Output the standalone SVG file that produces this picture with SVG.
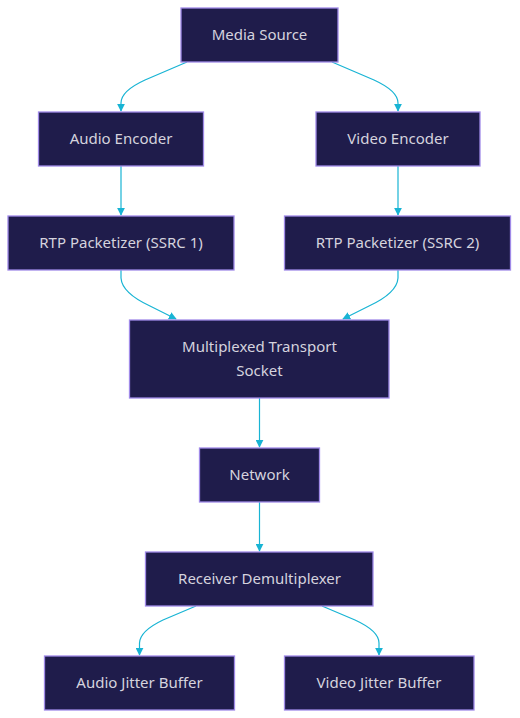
<svg xmlns="http://www.w3.org/2000/svg" width="520" height="718" viewBox="0 0 520 718">
<defs>
<style>
.node rect{fill:#1f1c4b;stroke:#a08ae8;stroke-width:1.3}
.node text{fill:#d5d3de;font-family:"Noto Sans","Open Sans",sans-serif;font-size:15px;text-anchor:middle;dominant-baseline:central}
.edge{fill:none;stroke:#18b4d4;stroke-width:1.2}
</style>
<marker id="arr" viewBox="0 0 10 10" refX="9" refY="5" markerWidth="8" markerHeight="8" markerUnits="userSpaceOnUse" orient="auto">
<path d="M0,0 L10,5 L0,10 z" fill="#18b4d4"/>
</marker>
</defs>
<rect width="520" height="718" fill="#ffffff"/>
<g id="connectors">
<path class="edge" d="M187,62 L145,80 Q121,91 121,103 L121,111" marker-end="url(#arr)"/>
<path class="edge" d="M332,62 L374,80 Q398,91 398,103 L398,111" marker-end="url(#arr)"/>
<path class="edge" d="M121,166 L121,215" marker-end="url(#arr)"/>
<path class="edge" d="M398,166 L398,215" marker-end="url(#arr)"/>
<path class="edge" d="M121,270 L121,278 Q122,293 150,306 L176,319" marker-end="url(#arr)"/>
<path class="edge" d="M398,270 L398,278 Q397,293 369,306 L343,319" marker-end="url(#arr)"/>
<path class="edge" d="M259.5,398 L259.5,447" marker-end="url(#arr)"/>
<path class="edge" d="M259.5,502 L259.5,551" marker-end="url(#arr)"/>
<path class="edge" d="M196,606 L163,620 Q140,631 139.5,643 L139.5,655" marker-end="url(#arr)"/>
<path class="edge" d="M322,606 L355,620 Q379,631 379,643 L379,655" marker-end="url(#arr)"/>
</g>
<g id="media-source" class="node"><rect x="181" y="8" width="157" height="54"/><text x="259.5" y="33.5">Media Source</text></g>
<g id="audio-encoder" class="node"><rect x="38.5" y="112" width="165" height="54"/><text x="121" y="137.5">Audio Encoder</text></g>
<g id="video-encoder" class="node"><rect x="316" y="112" width="164" height="54"/><text x="398" y="137.5">Video Encoder</text></g>
<g id="rtp1" class="node"><rect x="8" y="216" width="226" height="54"/><text x="121" y="241.5">RTP Packetizer (SSRC 1)</text></g>
<g id="rtp2" class="node"><rect x="284.5" y="216" width="226" height="54"/><text x="397.5" y="241.5">RTP Packetizer (SSRC 2)</text></g>
<g id="mux" class="node"><rect x="129.5" y="320" width="259.5" height="78"/><text x="259.5" y="345.5">Multiplexed Transport</text><text x="259.5" y="369.5">Socket</text></g>
<g id="network" class="node"><rect x="199.5" y="448" width="120" height="54"/><text x="259.5" y="473.5">Network</text></g>
<g id="demux" class="node"><rect x="145.5" y="552" width="227.5" height="54"/><text x="259.5" y="577.5">Receiver Demultiplexer</text></g>
<g id="audio-jb" class="node"><rect x="44.5" y="656" width="190" height="54"/><text x="139.5" y="681.5">Audio Jitter Buffer</text></g>
<g id="video-jb" class="node"><rect x="284.5" y="656" width="189.5" height="54"/><text x="379" y="681.5">Video Jitter Buffer</text></g>
</svg>
